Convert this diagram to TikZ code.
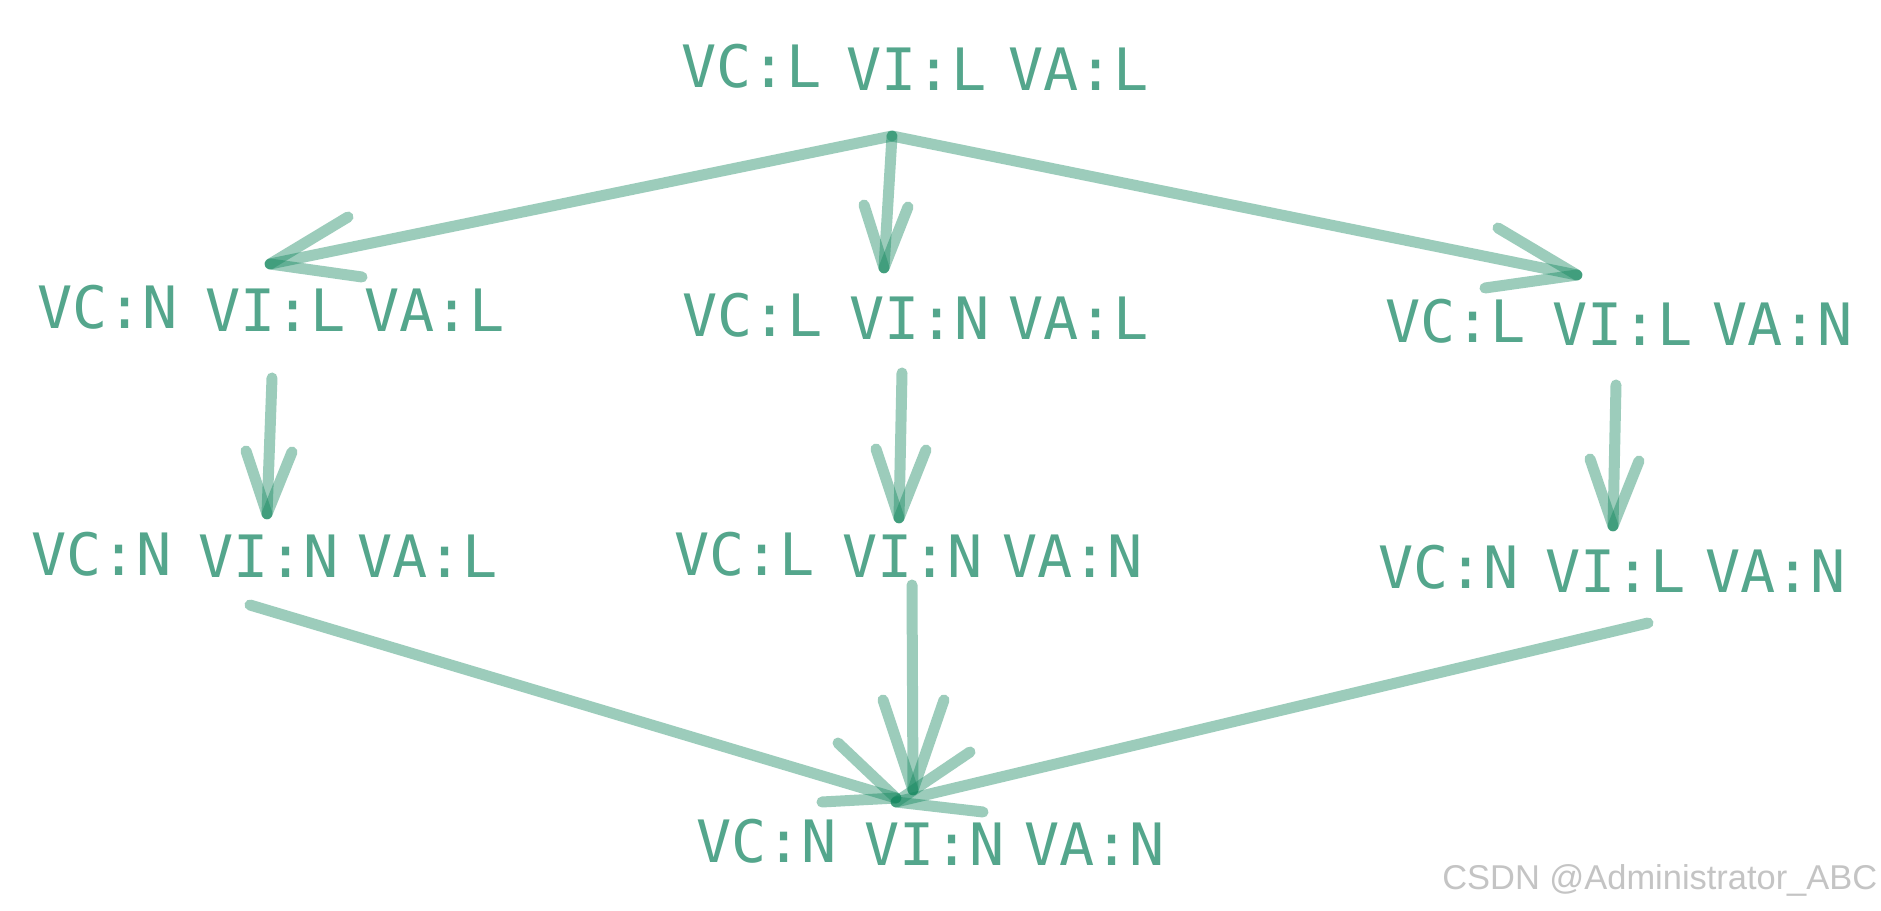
\documentclass[tikz,border=0pt]{standalone}
\usepackage{fontspec}
\setmainfont{Liberation Sans}
\newfontfamily\statefont{DejaVu Sans Mono}
\definecolor{txtgreen}{RGB}{84,166,140}
\definecolor{linegreen}{RGB}{20,135,95}
\definecolor{wmgray}{RGB}{196,196,196}
\begin{document}
\begin{tikzpicture}[x=0.02cm,y=-0.02cm,
  lbl/.style={font=\statefont\fontsize{33.25pt}{40pt}\selectfont, text=txtgreen, inner sep=0pt, anchor=base west},
  conn/.style={draw=linegreen, draw opacity=0.42, line width=0.22cm, line cap=round},
  wm/.style={font=\fontsize{19.6pt}{22pt}\selectfont, text=wmgray, inner sep=0pt, anchor=base west}]
\useasboundingbox (0,0) rectangle (1881,911);
\fill[white] (0,0) rectangle (1881,911);

% state labels
\node[lbl] (s0c) at (681,88) {VC:L};
\node[lbl] (s0i) at (846,91) {VI:L};
\node[lbl] (s0a) at (1008,91) {VA:L};

\node[lbl] (s1c) at (37,329) {VC:N};
\node[lbl] (s1i) at (205,332) {VI:L};
\node[lbl] (s1a) at (364,332) {VA:L};

\node[lbl] (s2c) at (682,337) {VC:L};
\node[lbl] (s2i) at (849,340) {VI:N};
\node[lbl] (s2a) at (1008,340) {VA:L};

\node[lbl] (s3c) at (1385,343) {VC:L};
\node[lbl] (s3i) at (1552,346) {VI:L};
\node[lbl] (s3a) at (1712,346) {VA:N};

\node[lbl] (s4c) at (31,576) {VC:N};
\node[lbl] (s4i) at (198,578) {VI:N};
\node[lbl] (s4a) at (357,578) {VA:L};

\node[lbl] (s5c) at (674,576) {VC:L};
\node[lbl] (s5i) at (842,578) {VI:N};
\node[lbl] (s5a) at (1002,578) {VA:N};

\node[lbl] (s6c) at (1378,589) {VC:N};
\node[lbl] (s6i) at (1545,593) {VI:L};
\node[lbl] (s6a) at (1705,593) {VA:N};

\node[lbl] (s7c) at (696,863) {VC:N};
\node[lbl] (s7i) at (864,866) {VI:N};
\node[lbl] (s7a) at (1024,866) {VA:N};

\node[wm] (mark) at (1442,890) {CSDN @Administrator\_ABC};

% connector end points
\coordinate (h0) at (892,136);
\coordinate (t1) at (270,264); \coordinate (b1a) at (348,217); \coordinate (b1b) at (362,277);
\coordinate (t2) at (884,268); \coordinate (b2a) at (864,205); \coordinate (b2b) at (908,207);
\coordinate (t3) at (1577,275); \coordinate (b3a) at (1498,228); \coordinate (b3b) at (1485,288);
\coordinate (f4) at (272,378); \coordinate (t4) at (267,514); \coordinate (b4a) at (246,451); \coordinate (b4b) at (292,452);
\coordinate (f5) at (902,373); \coordinate (t5) at (899,518); \coordinate (b5a) at (876,449); \coordinate (b5b) at (926,450);
\coordinate (f6) at (1616,385); \coordinate (t6) at (1613,526); \coordinate (b6a) at (1590,459); \coordinate (b6b) at (1639,461);
\coordinate (f7) at (250,605); \coordinate (t7) at (896,798); \coordinate (b7a) at (838,743); \coordinate (b7b) at (822,802);
\coordinate (f8) at (912,585); \coordinate (t8) at (913,790); \coordinate (b8a) at (883,700); \coordinate (b8b) at (944,700);
\coordinate (f9) at (1648,623); \coordinate (t9) at (896,802); \coordinate (b9a) at (970,752); \coordinate (b9b) at (983,812);

% connectors
\foreach \i/\f in {1/h0,2/h0,3/h0,4/f4,5/f5,6/f6,7/f7,8/f8,9/f9}{
  \draw[conn] (\f) -- (t\i);
  \draw[conn] (t\i) -- (b\i a);
  \draw[conn] (t\i) -- (b\i b);
}
\end{tikzpicture}
\end{document}
